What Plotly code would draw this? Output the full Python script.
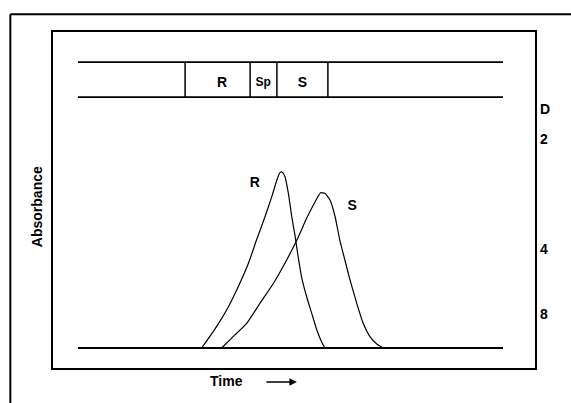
import plotly.graph_objects as go

# ---- data (time in arbitrary units, absorbance relative to R peak) ----
r_time = [29.1, 32.6, 35.4, 37.7, 40.1, 42.0, 44.0, 45.6, 46.8, 47.5, 48.0, 48.7,
          49.5, 50.3, 51.1, 51.8, 52.6, 53.8, 55.0, 56.2, 57.3, 58.1]
r_abs = [0.0, 0.122, 0.236, 0.350, 0.484, 0.617, 0.750, 0.865, 0.960, 1.002, 1.006, 0.979,
         0.884, 0.750, 0.636, 0.522, 0.407, 0.293, 0.198, 0.103, 0.036, 0.0]

s_time = [33.8, 36.5, 39.7, 42.8, 46.0, 49.1, 51.5, 53.8, 55.8, 57.1, 58.1, 59.3,
          60.5, 61.6, 62.8, 64.0, 65.6, 67.1, 68.7, 70.3, 71.8]
s_abs = [0.0, 0.065, 0.141, 0.255, 0.370, 0.503, 0.617, 0.741, 0.836, 0.887, 0.884, 0.846,
         0.750, 0.617, 0.503, 0.389, 0.255, 0.141, 0.065, 0.023, 0.0]

baseline_time = [0, 100]
baseline_abs = [0, 0]

# column zone band (schematic): boundaries in time units, band height in abs units
band_time = [0, 100]
band_low, band_high = 1.434, 1.634
zone_edges = [25.2, 40.5, 46.8, 58.8]
zone_labels = ["R", "Sp", "S"]
zone_label_time = [33.9, 43.6, 52.8]
zone_label_size = [14, 12, 14]

peak_labels = ["R", "S"]
peak_label_time = [41.6, 64.5]
peak_label_abs = [0.943, 0.811]

right_tickvals = [1.366, 1.194, 0.566, 0.194]
right_ticktext = ["D", "2", "4", "8"]

x_range = [-5.88, 107.53]
y_range = [-0.1143, 1.806]

FONT = "Liberation Sans"
BOLD = dict(family=FONT, size=14, color="black", weight="bold")

fig = go.Figure()

line_style = dict(color="black", width=1.2)
fig.add_trace(go.Scatter(x=r_time, y=r_abs, mode="lines", line=dict(line_style, shape="spline", smoothing=0.5),
                         hoverinfo="skip", showlegend=False))
fig.add_trace(go.Scatter(x=s_time, y=s_abs, mode="lines", line=dict(line_style, shape="spline", smoothing=0.5),
                         hoverinfo="skip", showlegend=False))
fig.add_trace(go.Scatter(x=baseline_time, y=baseline_abs, mode="lines",
                         line=dict(color="black", width=2), hoverinfo="skip", showlegend=False))

# band lines
for yv in (band_low, band_high):
    fig.add_trace(go.Scatter(x=band_time, y=[yv, yv], mode="lines",
                             line=dict(color="black", width=1.8), hoverinfo="skip", showlegend=False))
for xe in zone_edges:
    fig.add_trace(go.Scatter(x=[xe, xe], y=[band_low, band_high], mode="lines",
                             line=dict(color="black", width=1.5), hoverinfo="skip", showlegend=False))

# zone labels
fig.add_trace(go.Scatter(x=zone_label_time, y=[(band_low + band_high) / 2 - 0.02] * 3,
                         mode="text", text=zone_labels,
                         textfont=dict(family=FONT, size=zone_label_size, color="black", weight="bold"),
                         hoverinfo="skip", showlegend=False))
# peak labels
fig.add_trace(go.Scatter(x=peak_label_time, y=peak_label_abs, mode="text", text=peak_labels,
                         textfont=BOLD, hoverinfo="skip", showlegend=False))

# invisible trace to activate right axis
fig.add_trace(go.Scatter(x=[x_range[0]], y=[y_range[0]], yaxis="y2", mode="markers",
                         marker=dict(opacity=0), hoverinfo="skip", showlegend=False))

fig.update_layout(
    width=571, height=403,
    margin=dict(l=53, r=36, t=32, b=35),
    paper_bgcolor="white", plot_bgcolor="white",
    font=dict(family=FONT, color="black"),
    xaxis=dict(range=x_range, showgrid=False, zeroline=False, showticklabels=False, ticks="",
               showline=True, mirror=True, linecolor="black", linewidth=2),
    yaxis=dict(range=y_range, showgrid=False, zeroline=False, showticklabels=False, ticks="",
               showline=True, mirror=True, linecolor="black", linewidth=2),
    yaxis2=dict(range=y_range, overlaying="y", side="right", showgrid=False, zeroline=False,
                showline=False, ticks="", tickvals=right_tickvals, ticktext=right_ticktext,
                tickfont=BOLD, ticklabelstandoff=4),
    annotations=[
        dict(text="Absorbance", xref="paper", yref="paper", x=-0.033, y=0.479,
             textangle=-90, showarrow=False, font=BOLD, xanchor="center", yanchor="middle"),
        dict(text="Time", xref="paper", yref="paper", x=0.359, y=-0.039,
             showarrow=False, font=BOLD, xanchor="center", yanchor="middle"),
        dict(text="", xref="paper", yref="paper", x=0.506, y=-0.042,
             ax=-32, ay=0, showarrow=True, arrowhead=2, arrowsize=1, arrowwidth=1.5,
             arrowcolor="black"),
    ],
    shapes=[
        dict(type="line", xref="paper", yref="paper", x0=-0.0885, x1=1.2, y0=1.0525, y1=1.0525,
             line=dict(color="black", width=2)),
        dict(type="line", xref="paper", yref="paper", x0=-0.0885, x1=-0.0885, y0=1.0525, y1=-0.2,
             line=dict(color="black", width=2)),
    ],
)

fig.write_html("out.html")
